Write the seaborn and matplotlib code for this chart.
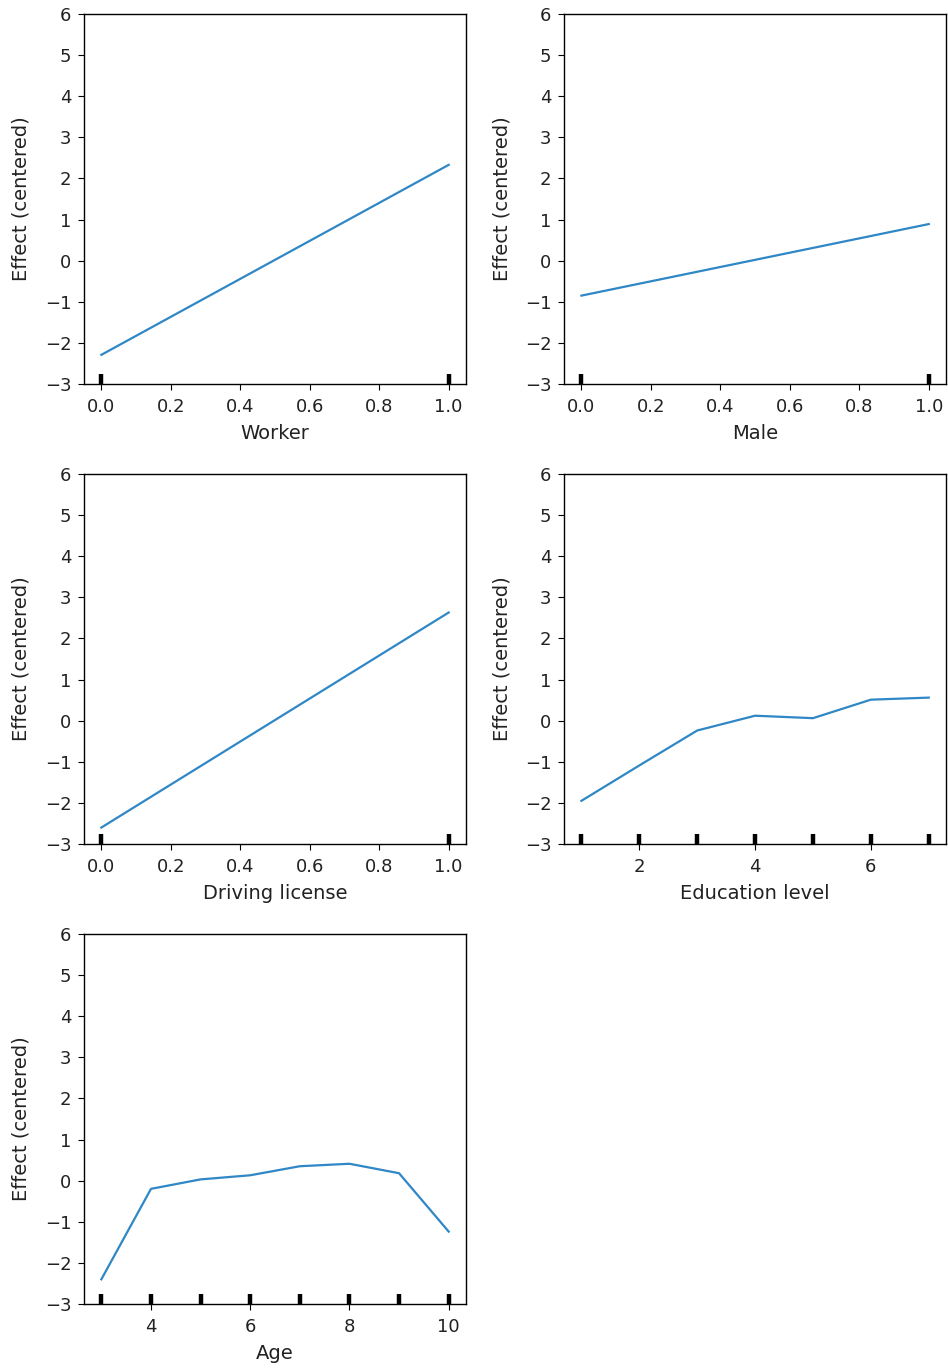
import numpy as np
import pandas as pd
import matplotlib
matplotlib.use("Agg")
import matplotlib.pyplot as plt
import seaborn as sns

plt.rcParams.update({
    "font.size": 13,
    "axes.labelsize": 14,
    "xtick.labelsize": 13,
    "ytick.labelsize": 13,
    "axes.linewidth": 1.0,
    "xtick.major.size": 4.5,
    "ytick.major.size": 4.5,
    "xtick.major.pad": 5.5,
    "ytick.major.pad": 4.5,
    "text.color": "#222222",
    "axes.labelcolor": "#222222",
    "xtick.labelcolor": "#222222",
    "ytick.labelcolor": "#222222",
})

# partial effects
worker_x = [0.0, 1.0]
worker_y = [-2.29, 2.33]

male_x = [0.0, 1.0]
male_y = [-0.85, 0.89]

license_x = [0.0, 1.0]
license_y = [-2.60, 2.63]

edu_x = [1, 2, 3, 4, 5, 6, 7]
edu_y = [-1.95, -1.09, -0.24, 0.12, 0.06, 0.51, 0.56]

age_x = [3, 4, 5, 6, 7, 8, 9, 10]
age_y = [-2.40, -0.20, 0.03, 0.13, 0.35, 0.41, 0.18, -1.24]

panels = [
    ("Worker", worker_x, worker_y, [0.0, 0.2, 0.4, 0.6, 0.8, 1.0]),
    ("Male", male_x, male_y, [0.0, 0.2, 0.4, 0.6, 0.8, 1.0]),
    ("Driving license", license_x, license_y, [0.0, 0.2, 0.4, 0.6, 0.8, 1.0]),
    ("Education level", edu_x, edu_y, [2, 4, 6]),
    ("Age", age_x, age_y, [4, 6, 8, 10]),
]

line_color = "#2f87c6"

fig, axes = plt.subplots(3, 2, figsize=(9.48, 13.69), dpi=100)
fig.subplots_adjust(left=0.0886, right=0.998, top=0.9898, bottom=0.0475,
                    wspace=0.2565, hspace=0.243)

for ax, (name, xs, ys, ticks) in zip(axes.flat, panels):
    df = pd.DataFrame({"x": xs, "y": ys})
    sns.lineplot(data=df, x="x", y="y", ax=ax, color=line_color, linewidth=1.6)
    sns.rugplot(data=df, x="x", ax=ax, color="black", height=0.027,
                linewidth=3.2, expand_margins=False)
    ax.set_ylim(-3, 6)
    ax.set_yticks(np.arange(-3, 7, 1))
    ax.set_xticks(ticks)
    ax.set_xlabel(name, labelpad=6)
    ax.set_ylabel("Effect (centered)", labelpad=10)

axes.flat[5].remove()

fig.savefig("out.png", dpi=100)
